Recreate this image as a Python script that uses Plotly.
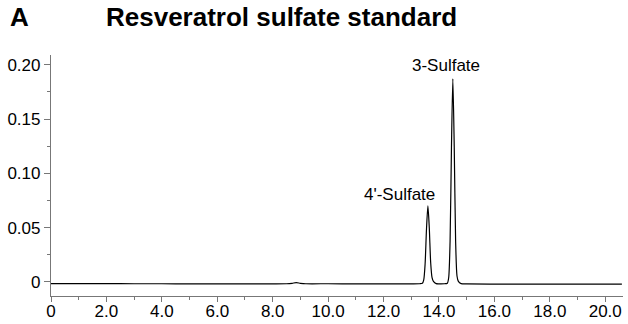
import plotly.graph_objects as go

# Retention time (min) and absorbance (AU)
time_min = [0.0, 1.0, 2.0, 3.0, 4.0, 5.0, 6.0, 7.0, 8.0, 8.5, 8.7, 8.85, 9.0, 9.2,
            10.0, 11.0, 12.0, 13.0, 13.3, 13.4, 13.45, 13.5, 13.55, 13.6, 13.65,
            13.7, 13.75, 13.8, 13.9, 14.0, 14.2, 14.3, 14.35, 14.4, 14.45, 14.5,
            14.55, 14.6, 14.65, 14.7, 14.8, 15.0, 16.0, 17.0, 18.0, 19.0, 20.0, 20.6]
absorbance = [-0.0015, -0.0015, -0.0015, -0.0016, -0.0016, -0.0017, -0.0017, -0.0017,
              -0.0017, -0.0016, -0.0012, -0.0006, -0.0012, -0.0016,
              -0.0016, -0.0017, -0.0017, -0.0017, -0.0016, -0.0012, 0.0020, 0.017,
              0.049, 0.070, 0.050, 0.018, 0.0040, 0.0005, -0.0015, -0.0017, -0.0016,
              -0.0012, 0.0040, 0.037, 0.124, 0.187, 0.125, 0.038, 0.0055, 0.0005,
              -0.0015, -0.0018, -0.0019, -0.0019, -0.0019, -0.0019, -0.0019, -0.0019]

peak_labels = ["4'-Sulfate", "3-Sulfate"]
peak_label_x = [12.56, 14.25]
peak_label_y = [0.081, 0.199]

x_tickvals = [0, 2, 4, 6, 8, 10, 12, 14, 16, 18, 20]
x_ticktext = ["0", "2.0", "4.0", "6.0", "8.0", "10.0", "12.0", "14.0", "16.0", "18.0", "20.0"]
y_tickvals = [0, 0.05, 0.10, 0.15, 0.20]
y_ticktext = ["0", "0.05", "0.10", "0.15", "0.20"]

panel_letter = "A"
title_text = "Resveratrol sulfate standard"

FONT = "Liberation Sans, Arial, sans-serif"

fig = go.Figure()
fig.add_trace(go.Scatter(
    x=time_min, y=absorbance, mode="lines",
    line=dict(color="black", width=1.2, shape="spline", smoothing=0.7),
    hoverinfo="skip", showlegend=False))

for txt, xv, yv in zip(peak_labels, peak_label_x, peak_label_y):
    fig.add_annotation(x=xv, y=yv, text=txt, showarrow=False,
                       xanchor="center", yanchor="middle",
                       font=dict(family=FONT, size=17, color="black"))

fig.add_annotation(xref="paper", yref="paper", x=-0.076, y=1.158, text="<b>%s</b>" % panel_letter,
                   showarrow=False, xanchor="left", yanchor="middle",
                   font=dict(family=FONT, size=26, color="black"))
fig.add_annotation(xref="paper", yref="paper", x=0.093, y=1.158, text="<b>%s</b>" % title_text,
                   showarrow=False, xanchor="left", yanchor="middle",
                   font=dict(family=FONT, size=26, color="black"))

axis_color = "#777777"
fig.update_layout(
    width=628, height=324,
    margin=dict(l=51, r=5, t=55, b=28, autoexpand=False),
    plot_bgcolor="white", paper_bgcolor="white",
    font=dict(family=FONT, size=17, color="black"),
    xaxis=dict(range=[0, 20.64], tickmode="array", tickvals=x_tickvals, ticktext=x_ticktext,
               automargin=False, ticklabelstandoff=-6,
               showgrid=False, zeroline=False, showline=True, linecolor=axis_color, linewidth=1.2,
               ticks="outside", ticklen=5, tickcolor=axis_color, tickwidth=1.2,
               minor=dict(tickmode="linear", tick0=0, dtick=1, ticks="outside", ticklen=3,
                          tickcolor=axis_color, showgrid=False),
               tickfont=dict(family=FONT, size=17, color="black")),
    yaxis=dict(range=[-0.0129, 0.209], tickmode="array", tickvals=y_tickvals, ticktext=y_ticktext,
               automargin=False,
               showgrid=False, zeroline=False, showline=True, linecolor=axis_color, linewidth=1.2,
               ticks="outside", ticklen=6, tickcolor=axis_color, tickwidth=1.2,
               minor=dict(tickmode="linear", tick0=0, dtick=0.025, ticks="outside", ticklen=3,
                          tickcolor=axis_color, showgrid=False),
               tickfont=dict(family=FONT, size=17, color="black")),
)

fig.write_html("out.html")
